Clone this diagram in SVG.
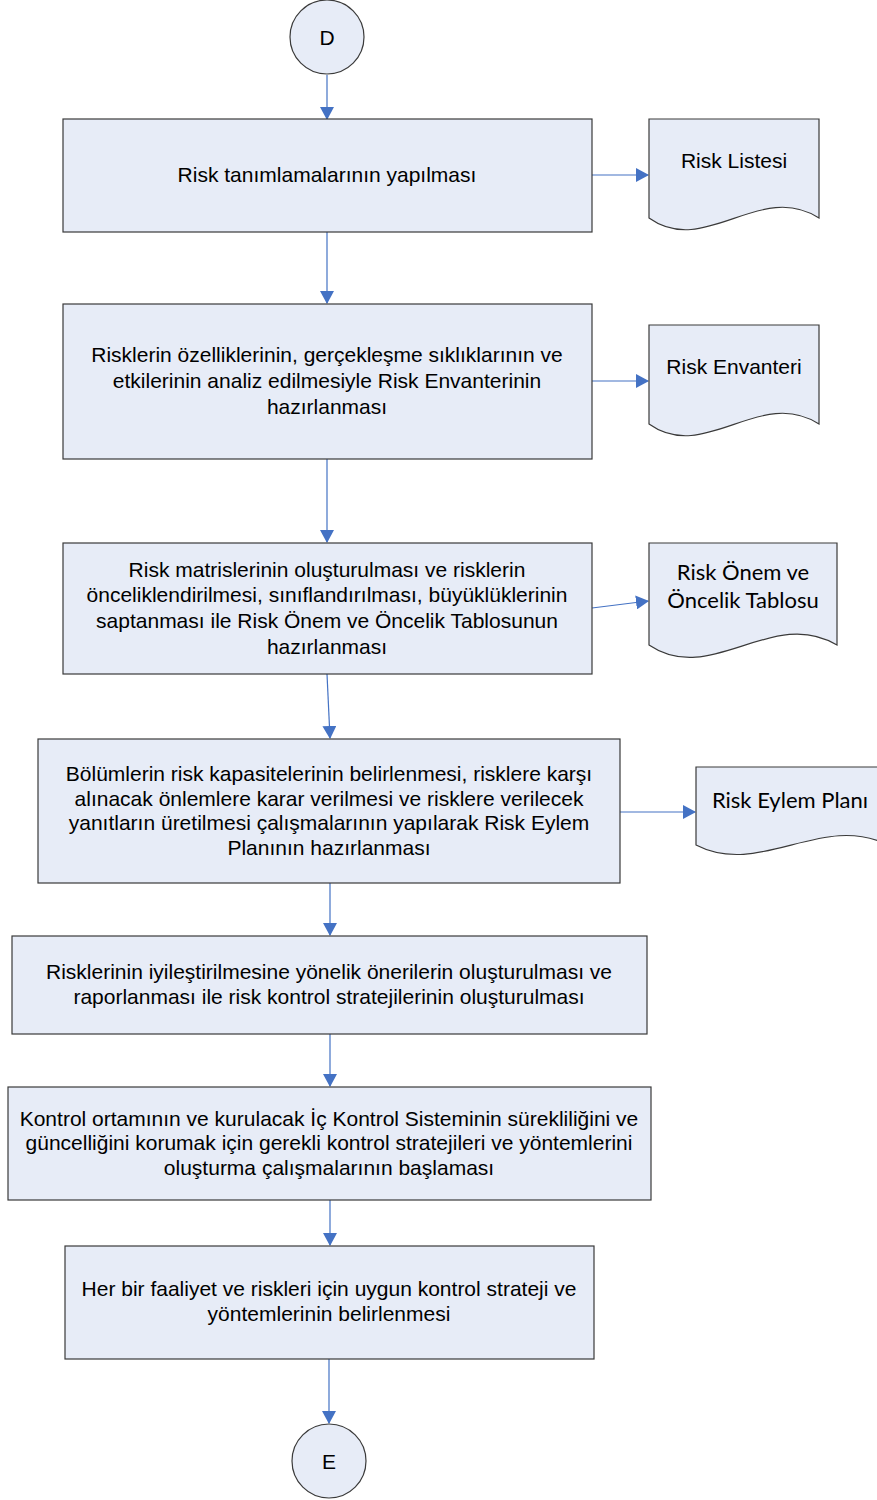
<svg xmlns="http://www.w3.org/2000/svg" width="877" height="1500" viewBox="0 0 877 1500">
<style>
.n{fill:#E7ECF7;stroke:#3a3a3a;stroke-width:1.2}
.t{font-family:"Liberation Sans",Arial,sans-serif;font-size:21px;fill:#000;text-anchor:middle}
.c{font-family:Lato,"Open Sans",sans-serif;font-size:22px;fill:#000;text-anchor:middle}
.e{stroke:#4472C4;stroke-width:1.2;fill:none;marker-end:url(#a)}
</style>
<defs>
<marker id="a" markerWidth="14" markerHeight="14" refX="12" refY="7" orient="auto" markerUnits="userSpaceOnUse">
<path d="M0,0 L13,7 L0,14 Z" fill="#4472C4"/>
</marker>
</defs>
<rect width="877" height="1500" fill="#fff"/>
<g id="connectors">
<line class="e" x1="327" y1="75" x2="327" y2="119"/>
<line class="e" x1="592" y1="175" x2="648" y2="175"/>
<line class="e" x1="327" y1="232" x2="327" y2="303"/>
<line class="e" x1="592" y1="381" x2="648" y2="381"/>
<line class="e" x1="327" y1="459" x2="327" y2="542"/>
<line class="e" x1="592" y1="608" x2="648" y2="601"/>
<line class="e" x1="327" y1="674" x2="330" y2="738"/>
<line class="e" x1="620" y1="812" x2="695" y2="812"/>
<line class="e" x1="330" y1="883" x2="330" y2="935"/>
<line class="e" x1="330" y1="1034" x2="330" y2="1086"/>
<line class="e" x1="330" y1="1200" x2="330" y2="1245"/>
<line class="e" x1="329" y1="1359" x2="329" y2="1423"/>
</g>
<g id="start">
<circle class="n" cx="327" cy="37" r="37"/>
<text class="t" x="327" y="45">D</text>
</g>
<g id="step1">
<rect class="n" x="63" y="119" width="529" height="113"/>
<text class="t" x="327" y="182">Risk tanımlamalarının yapılması</text>
</g>
<g id="doc1">
<path class="n" d="M649,119 H819 V218 C760,180 705,258 649,218 Z"/>
<text class="t" x="734" y="168">Risk Listesi</text>
</g>
<g id="step2">
<rect class="n" x="63" y="304" width="529" height="155"/>
<text class="t" x="327" y="362">Risklerin özelliklerinin, gerçekleşme sıklıklarının ve</text>
<text class="t" x="327" y="388">etkilerinin analiz edilmesiyle Risk Envanterinin</text>
<text class="t" x="327" y="414">hazırlanması</text>
</g>
<g id="doc2">
<path class="n" d="M649,325 H819 V424 C760,386 705,464 649,424 Z"/>
<text class="t" x="734" y="374">Risk Envanteri</text>
</g>
<g id="step3">
<rect class="n" x="63" y="543" width="529" height="131"/>
<text class="t" x="327" y="577">Risk matrislerinin oluşturulması ve risklerin</text>
<text class="t" x="327" y="602">önceliklendirilmesi, sınıflandırılması, büyüklüklerinin</text>
<text class="t" x="327" y="628">saptanması ile Risk Önem ve Öncelik Tablosunun</text>
<text class="t" x="327" y="654">hazırlanması</text>
</g>
<g id="doc3">
<path class="n" d="M649,543 H837 V645 C772,606 711,687 649,645 Z"/>
<text class="c" x="743" y="580">Risk Önem ve</text>
<text class="c" x="743" y="608">Öncelik Tablosu</text>
</g>
<g id="step4">
<rect class="n" x="38" y="739" width="582" height="144"/>
<text class="t" x="329" y="781">Bölümlerin risk kapasitelerinin belirlenmesi, risklere karşı</text>
<text class="t" x="329" y="806">alınacak önlemlere karar verilmesi ve risklere verilecek</text>
<text class="t" x="329" y="830">yanıtların üretilmesi çalışmalarının yapılarak Risk Eylem</text>
<text class="t" x="329" y="855">Planının hazırlanması</text>
</g>
<g id="doc4">
<path class="n" d="M696,767 H888 V845 C822,812 760,878 696,845 Z"/>
<text class="c" x="790" y="808">Risk Eylem Planı</text>
</g>
<g id="step5">
<rect class="n" x="12" y="936" width="635" height="98"/>
<text class="t" x="329" y="979">Risklerinin iyileştirilmesine yönelik önerilerin oluşturulması ve</text>
<text class="t" x="329" y="1004">raporlanması ile risk kontrol stratejilerinin oluşturulması</text>
</g>
<g id="step6">
<rect class="n" x="8" y="1087" width="643" height="113"/>
<text class="t" x="329" y="1126">Kontrol ortamının ve kurulacak İç Kontrol Sisteminin sürekliliğini ve</text>
<text class="t" x="329" y="1150">güncelliğini korumak için gerekli kontrol stratejileri ve yöntemlerini</text>
<text class="t" x="329" y="1175">oluşturma çalışmalarının başlaması</text>
</g>
<g id="step7">
<rect class="n" x="65" y="1246" width="529" height="113"/>
<text class="t" x="329" y="1296">Her bir faaliyet ve riskleri için uygun kontrol strateji ve</text>
<text class="t" x="329" y="1321">yöntemlerinin belirlenmesi</text>
</g>
<g id="end">
<circle class="n" cx="329" cy="1461" r="37"/>
<text class="t" x="329" y="1469">E</text>
</g>
</svg>
